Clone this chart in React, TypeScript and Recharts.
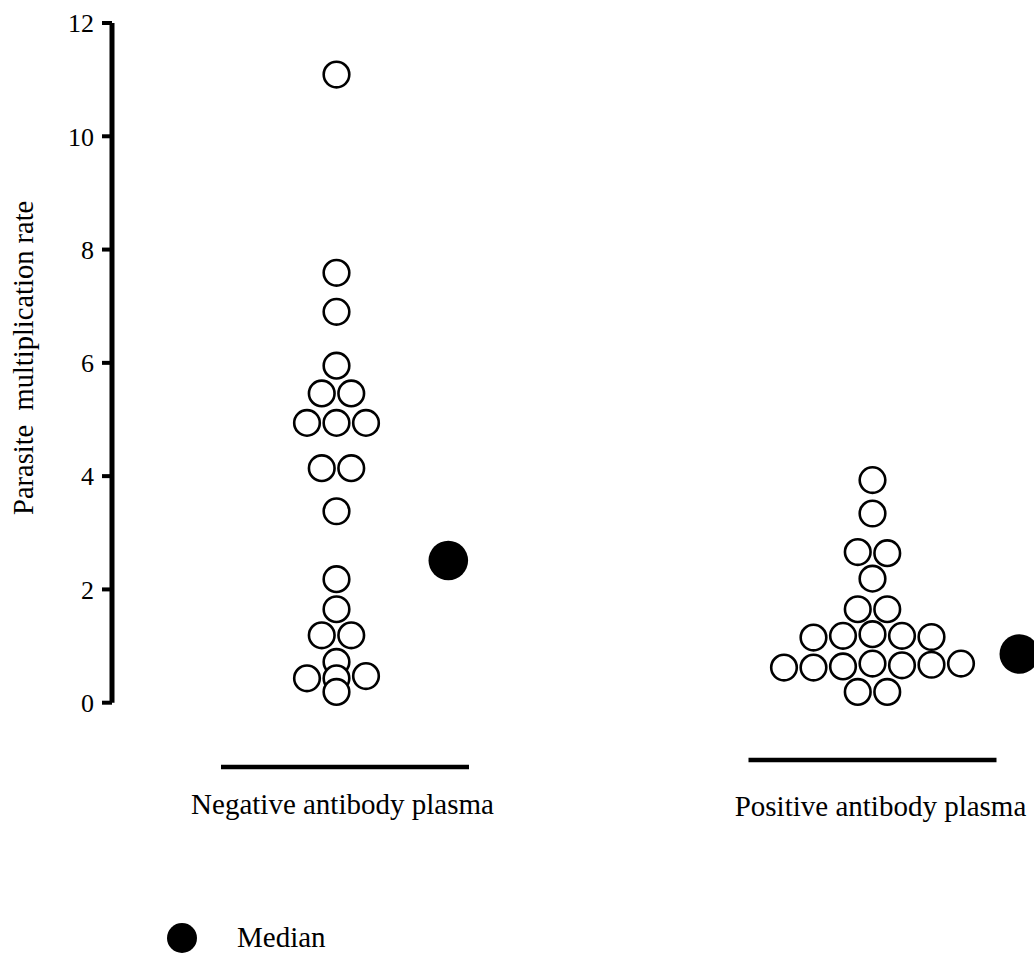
import React from 'react';
import { ScatterChart, Scatter, XAxis, YAxis, Customized } from 'recharts';

// ---- data ----
const GROUP_LABELS = ['Negative antibody plasma', 'Positive antibody plasma'];
const GROUP_X = [1, 2];
// listed row by row (top to bottom), left to right inside a row
const NEGATIVE_VALUES = [11.09, 7.59, 6.9, 5.95, 5.46, 5.46, 4.94, 4.94, 4.94, 4.14, 4.14, 3.38, 2.18, 1.65, 1.19, 1.19, 0.72, 0.43, 0.43, 0.47, 0.19];
const POSITIVE_VALUES = [3.93, 3.34, 2.66, 2.64, 2.19, 1.65, 1.65, 1.15, 1.18, 1.21, 1.18, 1.16, 0.62, 0.62, 0.64, 0.69, 0.66, 0.67, 0.69, 0.19, 0.19];
const MEDIANS = [2.51, 0.86];
const Y_TICKS = [0, 2, 4, 6, 8, 10, 12];
const LEGEND_LABEL = 'Median';
const Y_LABEL = 'Parasite  multiplication rate';

// ---- layout ----
const W = 1034;
const H = 956;
const X_DOMAIN = [0.58116, 2.30131];
const STEP = 0.05504; // horizontal spacing of dots in a row (x units)
const ROW_TOL = 0.1;
const MEDIAN_SHIFT = [0.2086, 0.2739];
const FONT = "'Liberation Serif', 'Times New Roman', Times, serif";

function swarm(values: number[], center: number) {
  const rows: number[][] = [];
  values.forEach((v) => {
    const last = rows[rows.length - 1];
    if (last && Math.abs(v - last[0]) <= ROW_TOL) last.push(v);
    else rows.push([v]);
  });
  const pts: { x: number; y: number }[] = [];
  rows.forEach((row) => {
    row.forEach((v, i) => {
      pts.push({ x: center + (i - (row.length - 1) / 2) * STEP, y: v });
    });
  });
  return pts;
}

const dotData = [...swarm(NEGATIVE_VALUES, GROUP_X[0]), ...swarm(POSITIVE_VALUES, GROUP_X[1])];
const medianData = MEDIANS.map((m, i) => ({ x: GROUP_X[i] + MEDIAN_SHIFT[i], y: m }));

const OpenDot = (p: any) => (
  <circle cx={p.cx} cy={p.cy} r={12.8} fill="#fff" stroke="#000" strokeWidth={2.6} />
);
const FilledDot = (p: any) => <circle cx={p.cx} cy={p.cy} r={19.8} fill="#000" />;

const LINE_DX = [8.5, 0];
const LINE_DY = [64.3, 57.3];
const LABEL_DX = [6, 8];
const LABEL_DY = [111, 113];

const GroupTick = (props: any) => {
  const { x, y, payload } = props;
  const i = GROUP_X.indexOf(payload.value);
  if (i < 0) return null;
  return (
    <g>
      <line
        x1={x - 124 + LINE_DX[i]}
        x2={x + 124 + LINE_DX[i]}
        y1={y + LINE_DY[i]}
        y2={y + LINE_DY[i]}
        stroke="#000"
        strokeWidth={4.3}
      />
      <text x={x + LABEL_DX[i]} y={y + LABEL_DY[i]} textAnchor="middle" fontSize={29} fontFamily={FONT} fill="#000">
        {GROUP_LABELS[i]}
      </text>
    </g>
  );
};

const LegendMark = () => (
  <g>
    <circle cx={182} cy={938} r={15} fill="#000" />
    <text x={237} y={947} fontSize={29} fontFamily={FONT} fill="#000">
      {LEGEND_LABEL}
    </text>
  </g>
);

const YLabel = (props: any) => {
  const vb = props.viewBox || { y: 23, height: 680 };
  const cx = 33;
  const cy = vb.y + vb.height / 2 - 5;
  return (
    <text
      x={cx}
      y={cy}
      transform={`rotate(-90, ${cx}, ${cy})`}
      textAnchor="middle"
      fontSize={28.5}
      fontFamily={FONT}
      fill="#000"
      style={{ whiteSpace: 'pre' }}
    >
      {Y_LABEL}
    </text>
  );
};

export default function App() {
  return (
    <div style={{ position: 'absolute', left: 0, top: 0, width: W, height: H, background: '#fff' }}>
      <ScatterChart width={W} height={H} margin={{ top: 23, right: 0, bottom: 133.3, left: 0 }}>
        <XAxis
          type="number"
          dataKey="x"
          domain={X_DOMAIN}
          ticks={GROUP_X}
          interval={0}
          axisLine={false}
          tickLine={false}
          tickSize={0}
          tickMargin={0}
          height={120}
          tick={<GroupTick />}
        />
        <YAxis
          type="number"
          dataKey="y"
          domain={[0, 12]}
          ticks={Y_TICKS}
          interval={0}
          width={112}
          axisLine={{ stroke: '#000', strokeWidth: 5 }}
          tickLine={{ stroke: '#000', strokeWidth: 4 }}
          tickSize={10}
          tickMargin={8}
          tick={{ fill: '#000', fontSize: 26, fontFamily: FONT }}
          label={{ value: Y_LABEL, content: <YLabel /> }}
        />
        <Scatter data={dotData} shape={<OpenDot />} isAnimationActive={false} />
        <Scatter data={medianData} shape={<FilledDot />} isAnimationActive={false} />
        <Customized component={<LegendMark />} />
      </ScatterChart>
    </div>
  );
}
